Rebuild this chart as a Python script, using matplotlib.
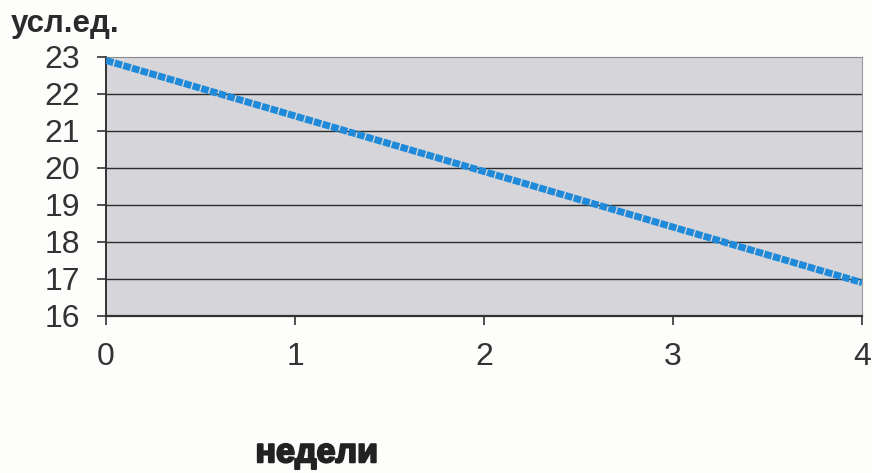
import matplotlib
matplotlib.use('Agg')
import matplotlib.pyplot as plt
import matplotlib.patheffects as pe

weeks = [0, 1, 2, 3, 4]
values = [22.9, 21.4, 19.9, 18.4, 16.9]
y_ticks = [16, 17, 18, 19, 20, 21, 22, 23]
x_ticks = [0, 1, 2, 3, 4]

plt.rcParams['font.family'] = ['Liberation Sans', 'DejaVu Sans']

fig = plt.figure(figsize=(8.72, 4.73), dpi=100)
fig.patch.set_facecolor('#fdfdfb')
ax = fig.add_axes([0.1216, 0.332, 0.867, 0.548])
ax.set_facecolor('#d6d6da')

for y in y_ticks[1:-1]:
    ax.axhline(y, color='#2b2b2b', lw=1.0, zorder=1)

ax.plot(weeks, values, color='#1f8ad9', lw=5, dashes=(1.1, 0.2), solid_capstyle='butt', zorder=3)

ax.set_xlim(0, 4)
ax.set_ylim(16, 23)
ax.set_xticks(x_ticks)
ax.set_yticks(y_ticks)
ax.tick_params(axis='both', labelsize=23, colors='#333333', length=6.5, width=1.2, pad=12)

ax.spines['left'].set_color('#333333')
ax.spines['bottom'].set_color('#333333')
ax.spines['left'].set_linewidth(1.4)
ax.spines['bottom'].set_linewidth(1.6)
ax.spines['top'].set_color('#8a8a8a')
ax.spines['right'].set_color('#9a9a9a')

fig.text(0.012, 0.918, 'усл.ед.', fontsize=22.5, fontweight='bold', color='#2a2a2a', va='bottom')
fig.text(0.293, 0.008, 'недели', fontsize=24.5, fontweight='heavy', color='#222222', va='bottom',
         path_effects=[pe.withStroke(linewidth=1.5, foreground='#222222')])

plt.savefig('out.png', dpi=100, facecolor=fig.get_facecolor())
